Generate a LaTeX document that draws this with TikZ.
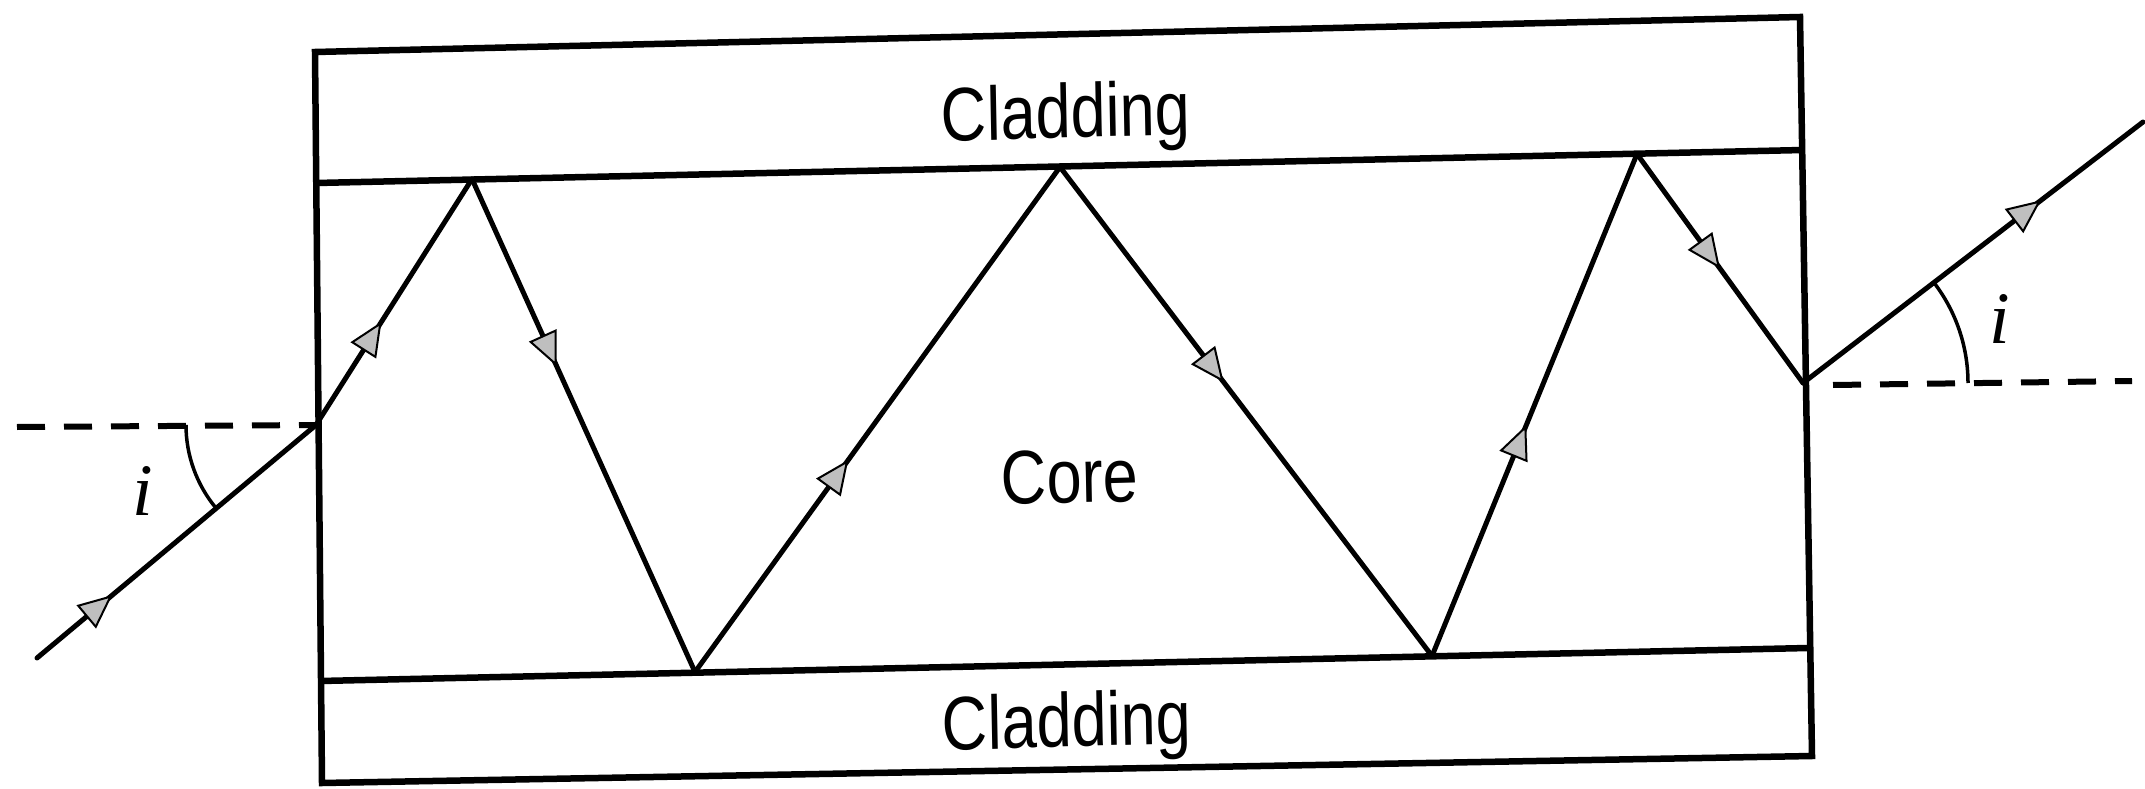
\documentclass[tikz,border=0pt]{standalone}
\usepackage{fontspec}
\setmainfont{Liberation Sans}
\newfontfamily\serifit{Liberation Serif}
\usetikzlibrary{arrows.meta,decorations.markings}
\tikzset{
  wall/.style={line width=6.5pt, line join=miter},
  ray/.style={line width=5pt, line cap=round},
  midarrow/.style={postaction={decorate,decoration={markings,
     mark=at position #1 with {\arrow{Triangle[length=34pt,width=30pt,fill=gray!50,line width=2pt]}}}}},
  guide/.style={line width=6pt, dash pattern=on 28pt off 19pt},
  anglearc/.style={line width=3.5pt},
  lbl/.style={font=\fontsize{76}{90}\selectfont, xscale=0.83, rotate=1.3, anchor=base, inner sep=0pt},
  angl/.style={font=\serifit\itshape\fontsize{74}{88}\selectfont, anchor=base, inner sep=0pt}
}
\begin{document}
\begin{tikzpicture}[x=1pt,y=-1pt]
\useasboundingbox (0,0) rectangle (2145,789);
% fibre layers
\coordinate (tl) at (315,52);
\coordinate (tr) at (1800,17);
\coordinate (ul) at (316,183);
\coordinate (ur) at (1803,150);
\coordinate (ll) at (320,681);
\coordinate (lr) at (1808,648);
\coordinate (bl) at (322,783);
\coordinate (br) at (1812,756);
\draw[wall] (tl) -- (tr) -- (br) -- (bl) -- cycle;
\draw[wall] (ul) -- (ur);
\draw[wall] (ll) -- (lr);
% ray points
\coordinate (start) at (37,658);
\coordinate (entry) at (316,425);
\coordinate (t1) at (472,179);
\coordinate (b1) at (695,672);
\coordinate (t2) at (1060,167);
\coordinate (b2) at (1432,656);
\coordinate (t3) at (1637,154);
\coordinate (exit) at (1803,383);
\coordinate (out) at (2143,122);
% normals
\coordinate (nl) at (17,427);
\coordinate (nr1) at (1833,385);
\coordinate (nr2) at (2132,381);
\draw[guide] (nl) -- (entry);
\draw[guide] (nr1) -- (nr2);
% ray
\draw[ray, midarrow=0.27] (start) -- (entry);
\draw[ray, midarrow=0.42] (entry) -- (t1);
\draw[ray, midarrow=0.38] (t1) -- (b1);
\draw[ray, midarrow=0.42] (b1) -- (t2);
\draw[ray, midarrow=0.44] (t2) -- (b2);
\draw[ray, midarrow=0.46] (b2) -- (t3);
\draw[ray, midarrow=0.5] (t3) -- (exit);
\draw[ray, midarrow=0.7] (exit) -- (out);
% angle arcs
\draw[anglearc] (entry) ++(180:130) arc[start angle=180, end angle=140, radius=130];
\draw[anglearc] (exit) ++(0:165) arc[start angle=0, end angle=-37.5, radius=165];
% labels
\node[lbl] (cladtop) at (1066,138) {Cladding};
\node[lbl] (core) at (1070,503) {Core};
\node[lbl] (cladbot) at (1067,747) {Cladding};
\node[angl] (il) at (143,515) {i};
\node[angl] (ir) at (2000,343) {i};
\end{tikzpicture}
\end{document}
